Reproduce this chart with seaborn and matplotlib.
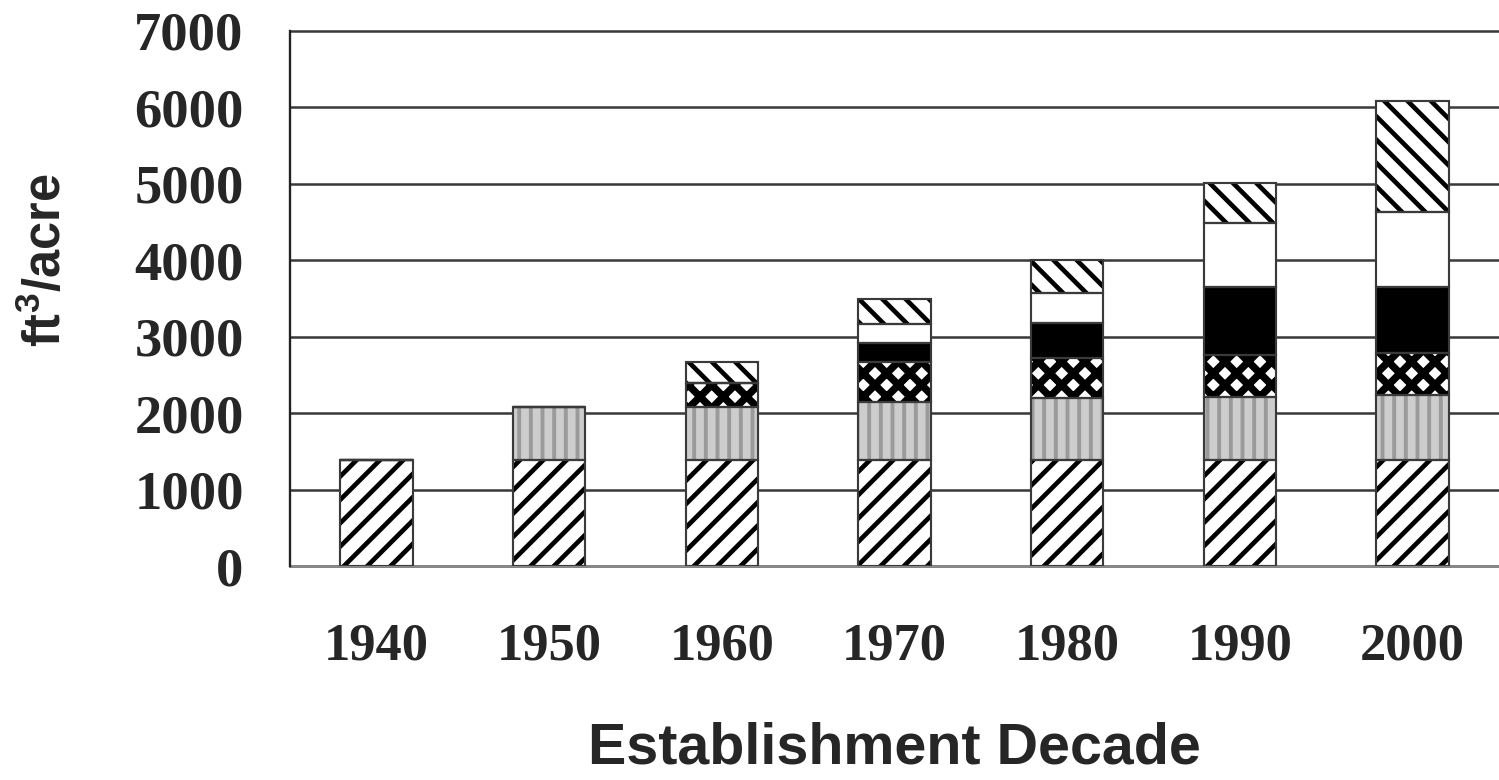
import numpy as np
import pandas as pd
import matplotlib
matplotlib.use("Agg")
import matplotlib.pyplot as plt
import seaborn as sns

# values (ft3/acre per component, bottom to top)
decades = ["1940", "1950", "1960", "1970", "1980", "1990", "2000"]
seg_base = [1385, 1385, 1385, 1385, 1385, 1385, 1385]
seg_grey = [0, 695, 695, 760, 810, 825, 850]
seg_dots = [0, 0, 310, 525, 525, 550, 550]
seg_black = [0, 0, 0, 245, 455, 885, 862]
seg_white = [0, 0, 0, 245, 395, 840, 980]
seg_top = [0, 0, 280, 340, 430, 520, 1463]
yticks = [0, 1000, 2000, 3000, 4000, 5000, 6000, 7000]

sns.set_style("white")
plt.rcParams["font.family"] = ["Liberation Serif", "DejaVu Serif"]
plt.rcParams["font.weight"] = "bold"
plt.rcParams["hatch.linewidth"] = 2.4
plt.rcParams["mathtext.fontset"] = "custom"
plt.rcParams["mathtext.bf"] = "Liberation Sans:bold"
plt.rcParams["mathtext.rm"] = "Liberation Sans:bold"

DPI = 140
fig = plt.figure(figsize=(1499 / DPI, 780 / DPI), dpi=DPI)
ax = fig.add_axes([290 / 1499, 1 - 566 / 780, 1209 / 1499, 535 / 780])

# (values, face, hatch colour, hatch, hatch width)
layers = [
    (seg_base, "white", "black", "//", 2.4),
    (seg_grey, "#cdcdcd", "#9a9a9a", "||", 2.0),
    (seg_dots, "white", "black", "xx", 3.8),
    (seg_black, "black", "black", None, 2.4),
    (seg_white, "white", "white", None, 2.4),
    (seg_top, "white", "black", "\\\\", 2.4),
]

stack = np.cumsum(np.array([l[0] for l in layers]), axis=0)

# stacked look: draw cumulative totals from the top layer down
for i in range(len(layers) - 1, -1, -1):
    _, face, hcol, hatch, hlw = layers[i]
    sns.barplot(x=decades, y=stack[i], order=decades, width=0.42, color=face,
                edgecolor=hcol, linewidth=0, hatch=hatch, saturation=1,
                errorbar=None, ax=ax, zorder=2)
    for p in ax.containers[-1]:
        if hasattr(p, "set_hatch_linewidth"):
            p.set_hatch_linewidth(hlw)

# segment outlines
for i in range(len(layers)):
    lower = stack[i - 1] if i > 0 else np.zeros(len(decades))
    seg = stack[i] - lower
    ax.bar(np.arange(len(decades)), seg, bottom=lower, width=0.42, fill=False,
           edgecolor="#3a3a3a", linewidth=1.1, zorder=3)

ax.set_xlim(-0.5, 6.5)
ax.set_ylim(0, 7000)
ax.set_yticks(yticks)
ax.set_yticklabels([str(v) for v in yticks])
ax.set_xticks(range(len(decades)))
ax.set_xticklabels(decades)
ax.set_xticks(np.arange(-0.5, 7, 1), minor=True)

ax.grid(False)
ax.yaxis.grid(True, color="#3a3a3a", linewidth=1.3)
for gl in ax.yaxis.get_gridlines():
    gl.set_clip_on(False)
ax.set_axisbelow(True)

for s in ["top", "right"]:
    ax.spines[s].set_visible(False)
ax.spines["left"].set_color("#222222")
ax.spines["left"].set_linewidth(1.2)
ax.spines["left"].set_zorder(4)
ax.spines["bottom"].set_color("#8a8a8a")
ax.spines["bottom"].set_linewidth(1.4)

ax.tick_params(axis="y", direction="out", length=10.3, width=1.3, color="#444444",
               pad=13.5, labelsize=28)
ax.tick_params(axis="x", which="major", length=0, pad=29, labelsize=27)
ax.tick_params(axis="x", which="minor", direction="out", length=10, width=1.3,
               color="#333333")

ax.set_xlabel("Establishment Decade", family=["Liberation Sans", "DejaVu Sans"],
              fontsize=29.5, fontweight="bold", va="top")
ax.xaxis.set_label_coords(0.5, -0.29)
ax.set_ylabel(r"$\mathbf{ft^3/acre}$", fontsize=26)
ax.yaxis.set_label_coords(-0.18, 0.572)

fig.savefig("out.png", dpi=DPI)
